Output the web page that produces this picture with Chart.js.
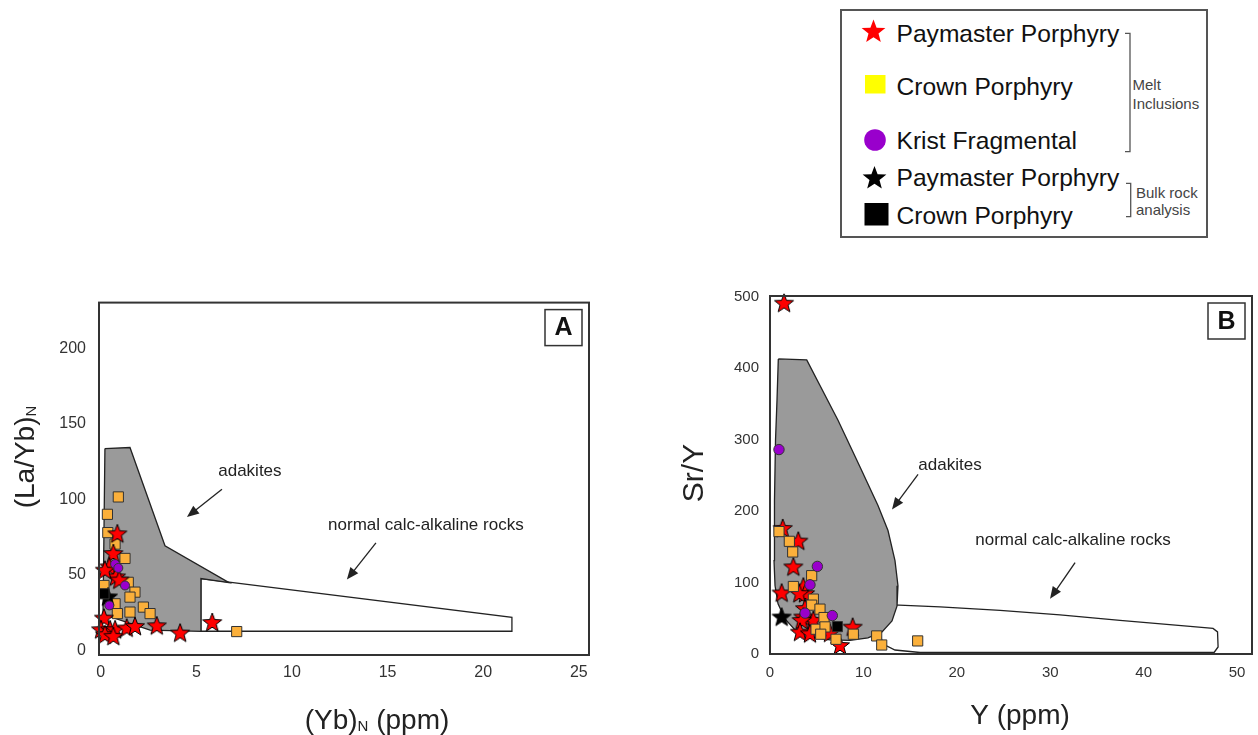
<!DOCTYPE html>
<html>
<head>
<meta charset="utf-8">
<script src="https://cdn.jsdelivr.net/npm/chart.js@4.4.1/dist/chart.umd.min.js"></script>
<style>
body{margin:0;background:#fff;width:1258px;height:735px;overflow:hidden;position:relative;}
#wrapA{position:absolute;left:0;top:280px;width:600px;height:455px;}
#wrapB{position:absolute;left:640px;top:276px;width:628px;height:459px;}
#legend{position:absolute;left:0;top:0;}
</style>
</head>
<body>
<svg id="legend" width="1258" height="250"></svg>
<div id="wrapA"><canvas id="chartA" width="600" height="455"></canvas></div>
<div id="wrapB"><canvas id="chartB" width="628" height="459"></canvas></div>
<script>
const FONT='Arial, "Liberation Sans", sans-serif';
const RED='#ff0000', ORANGE='#fbb03b', PURPLE='#9900cc', GREY='#9a9a9a';

// Panel A : (Yb)N vs (La/Yb)N
const aPaymasterMI=[[0.87,76.9],[0.66,63.8],[0.45,55.0],[0.80,48.4],[0.22,52.8],[0.97,46.3],[0.17,21.1],[0.02,13.4],[0.49,13.4],[0.75,13.4],[1.36,14.5],[1.79,15.6],[2.93,16.0],[4.15,11.2],[5.83,18.2],[0.22,10.1],[0.66,9.0]];
const aCrownMI=[[0.92,101.6],[0.35,90.1],[0.37,78.0],[0.75,70.4],[1.27,60.9],[0.17,43.0],[1.44,45.1],[1.79,38.6],[1.53,35.3],[0.75,30.9],[2.23,28.7],[1.53,25.4],[2.58,24.4],[0.87,24.4],[7.11,12.5]];
const aKristMI=[[0.75,57.2],[0.92,54.6],[1.27,43.0],[0.45,29.8]];
const aPaymasterBulk=[[0.38,35.1]];
const aCrownBulk=[[0.17,37.5]];
const aAdakiteField=[[0.22,133.6],[1.53,134.3],[3.36,69.3],[6.71,44.9],[5.24,47.6],[5.24,12.7],[2.58,13.4],[0.12,23.9],[0.22,133.6]];
const aCalcAlkField=[[5.24,47.6],[21.5,21.9],[21.5,12.7],[5.24,12.7],[5.24,47.6]];
const aXTicks=[0,5,10,15,20,25];
const aYTicks=[0,50,100,150,200];

// Panel B : Y vs Sr/Y
const bPaymasterMI=[[1.50,490.2],[1.36,175.1],[3.03,157.3],[2.50,121.2],[1.25,84.7],[3.57,93.1],[3.75,83.8],[3.14,83.8],[3.75,62.8],[3.57,51.0],[4.64,46.3],[3.39,46.3],[3.21,29.9],[4.28,27.7],[6.42,28.5],[7.49,11.2],[8.85,36.9]];
const bCrownMI=[[0.96,171.3],[2.07,157.7],[2.43,142.8],[4.46,109.6],[2.50,94.5],[4.64,76.8],[4.46,68.4],[5.35,62.8],[5.78,51.0],[4.93,34.7],[5.89,37.9],[5.43,27.7],[7.07,20.6],[8.92,27.7],[11.42,25.3],[11.96,12.6],[15.81,18.3]];
const bKristMI=[[0.96,286.1],[5.07,122.6],[4.28,96.9],[3.75,57.2],[6.67,53.8]];
const bPaymasterBulk=[[1.25,51.0]];
const bCrownBulk=[[7.21,38.3]];
const bAdakiteField=[[0.89,412.9],[3.93,411.5],[7.28,327.2],[9.64,261.7],[11.56,207.9],[12.63,172.8],[13.38,130.6],[13.70,95.5],[13.60,67.4],[13.06,46.3],[11.99,30.9],[10.49,22.5],[8.57,19.0],[6.42,19.7],[4.28,23.9],[2.68,33.7],[1.61,49.2],[0.86,70.2],[0.54,95.5],[0.43,130.6],[0.48,214.9],[0.59,299.2],[0.75,355.3],[0.89,412.9]];
const bCalcAlkField=[[13.20,68.8],[18.20,66.0],[24.63,61.1],[31.05,54.8],[37.47,47.1],[44.97,38.6],[47.43,35.8],[47.91,30.9],[47.97,9.8],[47.54,2.1],[16.06,2.1],[13.38,5.6],[12.10,14.0],[11.67,32.3],[11.99,52.0],[12.63,64.6],[13.20,68.8]];
const bXTicks=[0,10,20,30,40,50];
const bYTicks=[0,100,200,300,400,500];

const legendLabels=['Paymaster Porphyry','Crown Porphyry','Krist Fragmental','Paymaster Porphyry','Crown Porphyry'];

// star marker as an image
function starImg(fill,r){
  const c=document.createElement('canvas');
  const s=Math.ceil(r*2+4);
  c.width=s;c.height=s;
  const ctx=c.getContext('2d');
  ctx.beginPath();
  for(let i=0;i<10;i++){
    const rad=i%2?r*0.42:r;
    const a=-Math.PI/2+i*Math.PI/5;
    ctx.lineTo(s/2+rad*Math.cos(a),s/2+rad*Math.sin(a));
  }
  ctx.closePath();
  ctx.fillStyle=fill;ctx.fill();
  ctx.lineWidth=1;ctx.strokeStyle='#000';ctx.stroke();
  return c;
}
const redStar=starImg(RED,10);
const blackStar=starImg('#000',10);

const pts=arr=>arr.map(p=>({x:p[0],y:p[1]}));

function field(arr,filled){
  return {data:pts(arr),showLine:true,fill:filled?'shape':false,backgroundColor:GREY,
    borderColor:'#222',borderWidth:1.3,pointRadius:0,tension:0,order:10,clip:false};
}
function stars(arr,img,order){
  return {data:pts(arr),pointStyle:img,pointRadius:10,order,clip:false};
}
function squares(arr,color,order){
  return {data:pts(arr),pointStyle:'rect',pointRadius:7.2,backgroundColor:color,
    borderColor:'#333',borderWidth:1,order,clip:false};
}
function circles(arr,r,order){
  return {data:pts(arr),pointStyle:'circle',pointRadius:r,backgroundColor:PURPLE,
    borderColor:'#333',borderWidth:1,order,clip:false};
}

function axis(min,max,ticks,prop,size,pad,fs){
  return {type:'linear',min,max,
    grid:{display:false,drawTicks:false},border:{display:false},
    ticks:{padding:pad,color:'#333',font:{size:fs,family:FONT}},
    afterBuildTicks:s=>{s.ticks=ticks.map(v=>({value:v}));},
    afterFit:s=>{s[prop]=size;}};
}

// extras per panel: notes and arrows in data units, titles in canvas px
const extras={
  chartA:{
    letter:'A',
    notes:[{t:'adakites',x:7.8,y:118.5},{t:'normal calc-alkaline rocks',x:17.0,y:83.1}],
    arrows:[[6.34,106.7,4.51,88.3],[14.39,71.2,12.87,46.9]],
    xTitle:{cx:377,cy:440,parts:[['(Yb)',28],['N',15,2],[' (ppm)',28]]},
    yTitle:{cx:25,cy:177,parts:[['(La/Yb)',28],['N',15,2]]}
  },
  chartB:{
    letter:'B',
    notes:[{t:'adakites',x:19.27,y:264.0},{t:'normal calc-alkaline rocks',x:32.44,y:158.7}],
    arrows:[[15.85,251.4,13.06,202.2],[32.66,127.8,29.98,77.2]],
    xTitle:{cx:380,cy:439,parts:[['Y (ppm)',28]]},
    yTitle:{cx:53,cy:197,parts:[['Sr/Y',30]]}
  }
};

function drawParts(ctx,title,rot){
  ctx.save();
  ctx.translate(title.cx,title.cy);
  ctx.rotate(rot);
  let w=0;
  const main=title.parts[0][1];
  title.parts.forEach(p=>{ctx.font=p[1]+'px '+FONT;p.w=ctx.measureText(p[0]).width;w+=p.w;});
  let x=-w/2;
  ctx.textBaseline='alphabetic';ctx.fillStyle='#222';
  title.parts.forEach(p=>{
    ctx.font=p[1]+'px '+FONT;
    ctx.fillText(p[0],x,main*0.33+(p[2]||0));
    x+=p.w;
  });
  ctx.restore();
}

const overlay={
  id:'overlay',
  afterDatasetsDraw(chart){
    const e=extras[chart.canvas.id];
    const ctx=chart.ctx, xs=chart.scales.x, ys=chart.scales.y;
    ctx.save();
    ctx.fillStyle='#222';ctx.font='17px '+FONT;
    ctx.textAlign='center';ctx.textBaseline='middle';
    e.notes.forEach(n=>ctx.fillText(n.t,xs.getPixelForValue(n.x),ys.getPixelForValue(n.y)));
    ctx.strokeStyle='#222';ctx.lineWidth=1.3;
    e.arrows.forEach(a=>{
      const x1=xs.getPixelForValue(a[0]),y1=ys.getPixelForValue(a[1]);
      const x2=xs.getPixelForValue(a[2]),y2=ys.getPixelForValue(a[3]);
      const ang=Math.atan2(y2-y1,x2-x1);
      ctx.beginPath();ctx.moveTo(x1,y1);ctx.lineTo(x2-8*Math.cos(ang),y2-8*Math.sin(ang));ctx.stroke();
      ctx.beginPath();
      ctx.moveTo(x2,y2);
      ctx.lineTo(x2-12*Math.cos(ang)+5*Math.sin(ang),y2-12*Math.sin(ang)-5*Math.cos(ang));
      ctx.lineTo(x2-12*Math.cos(ang)-5*Math.sin(ang),y2-12*Math.sin(ang)+5*Math.cos(ang));
      ctx.closePath();ctx.fill();
    });
    ctx.restore();
  },
  afterDraw(chart){
    const e=extras[chart.canvas.id];
    const ctx=chart.ctx, a=chart.chartArea;
    ctx.save();
    ctx.strokeStyle='#333';ctx.lineWidth=2;
    ctx.strokeRect(a.left,a.top,a.right-a.left,a.bottom-a.top);
    // panel letter
    const bx=a.right-7-37, by=a.top+7;
    ctx.lineWidth=1.5;ctx.fillStyle='#fff';
    ctx.fillRect(bx,by,37,36);ctx.strokeRect(bx,by,37,36);
    ctx.fillStyle='#111';ctx.font='bold 25px '+FONT;
    ctx.textAlign='center';ctx.textBaseline='middle';
    ctx.fillText(e.letter,bx+18.5,by+19);
    ctx.restore();
    drawParts(ctx,e.xTitle,0);
    drawParts(ctx,e.yTitle,-Math.PI/2);
  }
};

function makeChart(id,sets,xAxis,yAxis,pad){
  return new Chart(document.getElementById(id),{
    type:'scatter',
    data:{datasets:sets},
    options:{
      responsive:false,animation:false,events:[],
      layout:{padding:pad},
      plugins:{legend:{display:false},tooltip:{enabled:false}},
      scales:{x:xAxis,y:yAxis}
    },
    plugins:[overlay]
  });
}

makeChart('chartA',[
  field(aAdakiteField,true),
  field(aCalcAlkField,false),
  squares(aCrownMI,ORANGE,5),
  stars(aPaymasterMI,redStar,4),
  squares(aCrownBulk,'#000',3),
  stars(aPaymasterBulk,blackStar,3),
  circles(aKristMI,4.5,2)
],axis(-0.09,25.53,aXTicks,'height',80,8,16),axis(-3.0,230.2,aYTicks,'width',99,13,16),
{left:0,top:20,right:11,bottom:0});

makeChart('chartB',[
  field(bAdakiteField,true),
  field(bCalcAlkField,false),
  stars(bPaymasterMI,redStar,5),
  squares(bCrownMI,ORANGE,4),
  stars(bPaymasterBulk,blackStar,3),
  squares(bCrownBulk,'#000',3),
  circles(bKristMI,5.2,2)
],axis(0,51.6,bXTicks,'height',81,10,15),axis(0,501,bYTicks,'width',130,11,15),
{left:0,top:20,right:16,bottom:0});

// legend box
(function(){
  const svg=document.getElementById('legend');
  const NS='http://www.w3.org/2000/svg';
  const add=(tag,attrs,text)=>{
    const el=document.createElementNS(NS,tag);
    for(const k in attrs) el.setAttribute(k,attrs[k]);
    if(text) el.textContent=text;
    svg.appendChild(el);return el;
  };
  const starPts=(cx,cy,r)=>{
    const p=[];
    for(let i=0;i<10;i++){
      const rad=i%2?r*0.42:r, a=-Math.PI/2+i*Math.PI/5;
      p.push((cx+rad*Math.cos(a)).toFixed(1)+','+(cy+rad*Math.sin(a)).toFixed(1));
    }
    return p.join(' ');
  };
  add('rect',{x:841,y:10,width:366,height:227,fill:'#fff',stroke:'#555','stroke-width':2});
  add('polygon',{points:starPts(873.5,32,12.5),fill:RED});
  add('rect',{x:865,y:75,width:20.5,height:18.5,fill:'#ffff00'});
  add('circle',{cx:875,cy:140,r:10.8,fill:PURPLE});
  add('polygon',{points:starPts(874.5,178.5,12.5),fill:'#000'});
  add('rect',{x:864.5,y:203,width:24,height:22.5,fill:'#000'});
  const ys=[33,86.5,140,177.5,215];
  legendLabels.forEach((t,i)=>add('text',{x:896.5,y:ys[i],'dominant-baseline':'central',
    'font-family':FONT,'font-size':24.6,fill:'#111'},t));
  add('path',{d:'M1125 33.3 H1130 V151.7 H1125',fill:'none',stroke:'#555','stroke-width':1.3});
  add('path',{d:'M1126 183.3 H1130.7 V216.7 H1126',fill:'none',stroke:'#555','stroke-width':1.3});
  const small={'dominant-baseline':'central','font-family':FONT,'font-size':15,fill:'#444'};
  add('text',Object.assign({x:1132.5,y:84.5},small),'Melt');
  add('text',Object.assign({x:1132.5,y:103.5},small),'Inclusions');
  add('text',Object.assign({x:1136,y:192.5},small),'Bulk rock');
  add('text',Object.assign({x:1136,y:209.5},small),'analysis');
})();
</script>
</body>
</html>
